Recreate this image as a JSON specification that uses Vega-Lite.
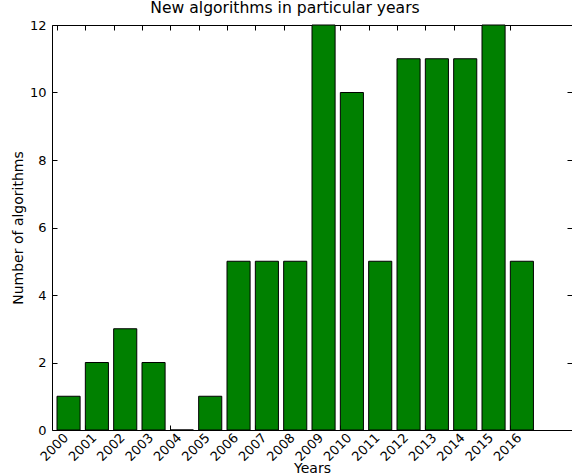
{
  "$schema": "https://vega.github.io/schema/vega-lite/v6.json",
  "width": 520,
  "height": 405,
  "autosize": "none",
  "padding": {"left": 52, "top": 25, "right": 0, "bottom": 44},
  "config": {
    "font": "DejaVu Sans",
    "view": {"stroke": "black", "strokeWidth": 1},
    "axis": {
      "domain": false,
      "grid": false,
      "tickColor": "black",
      "tickWidth": 1,
      "labelColor": "black",
      "labelFont": "DejaVu Sans",
      "labelFontSize": 13,
      "titleFont": "DejaVu Sans",
      "titleFontSize": 14,
      "titleFontWeight": "normal",
      "titleColor": "black"
    }
  },
  "title": {
    "text": "New algorithms in particular years",
    "font": "DejaVu Sans",
    "fontSize": 15.6,
    "fontWeight": "normal",
    "color": "black",
    "frame": "group",
    "dx": -27,
    "offset": 2
  },
  "data": {
    "values": [
      {"year": 2000, "count": 1},
      {"year": 2001, "count": 2},
      {"year": 2002, "count": 3},
      {"year": 2003, "count": 2},
      {"year": 2004, "count": 0},
      {"year": 2005, "count": 1},
      {"year": 2006, "count": 5},
      {"year": 2007, "count": 5},
      {"year": 2008, "count": 5},
      {"year": 2009, "count": 12},
      {"year": 2010, "count": 10},
      {"year": 2011, "count": 5},
      {"year": 2012, "count": 11},
      {"year": 2013, "count": 11},
      {"year": 2014, "count": 11},
      {"year": 2015, "count": 12},
      {"year": 2016, "count": 5}
    ]
  },
  "layer": [
    {
      "mark": {"type": "bar", "fill": "#008000", "stroke": "black", "strokeWidth": 1, "width": 23.1, "xOffset": 11.55},
      "encoding": {
        "x": {
          "field": "year", "type": "quantitative",
          "scale": {"domain": [2000, 2018], "nice": false, "zero": false},
          "axis": {
            "orient": "bottom", "title": "Years",
            "values": [2000,2001,2002,2003,2004,2005,2006,2007,2008,2009,2010,2011,2012,2013,2014,2015,2016],
            "format": "d", "labelAngle": -45, "labelAlign": "center", "labelBaseline": "middle",
            "tickSize": -5, "labelPadding": 22, "labelOffset": -3, "labelFlush": false, "labelOverlap": false,
            "titleBaseline": "alphabetic", "titleY": 42
          }
        },
        "y": {
          "field": "count", "type": "quantitative",
          "scale": {"domain": [0, 12], "nice": false},
          "axis": {
            "orient": "left", "title": "Number of algorithms",
            "values": [0, 2, 4, 6, 8, 10, 12],
            "tickSize": -5, "labelPadding": 11, "labelFlush": false, "labelOverlap": false,
            "titleBaseline": "alphabetic", "titleX": -30
          }
        }
      }
    },
    {
      "mark": {"type": "point", "opacity": 0},
      "encoding": {
        "x": {
          "field": "year", "type": "quantitative",
          "axis": {
            "orient": "top", "title": null, "labels": false,
            "values": [2000,2001,2002,2003,2004,2005,2006,2007,2008,2009,2010,2011,2012,2013,2014,2015,2016],
            "tickSize": -5
          }
        },
        "y": {
          "field": "count", "type": "quantitative",
          "axis": {
            "orient": "right", "title": null, "labels": false,
            "values": [0, 2, 4, 6, 8, 10, 12],
            "tickSize": -5
          }
        }
      }
    }
  ],
  "resolve": {"axis": {"x": "independent", "y": "independent"}}
}
